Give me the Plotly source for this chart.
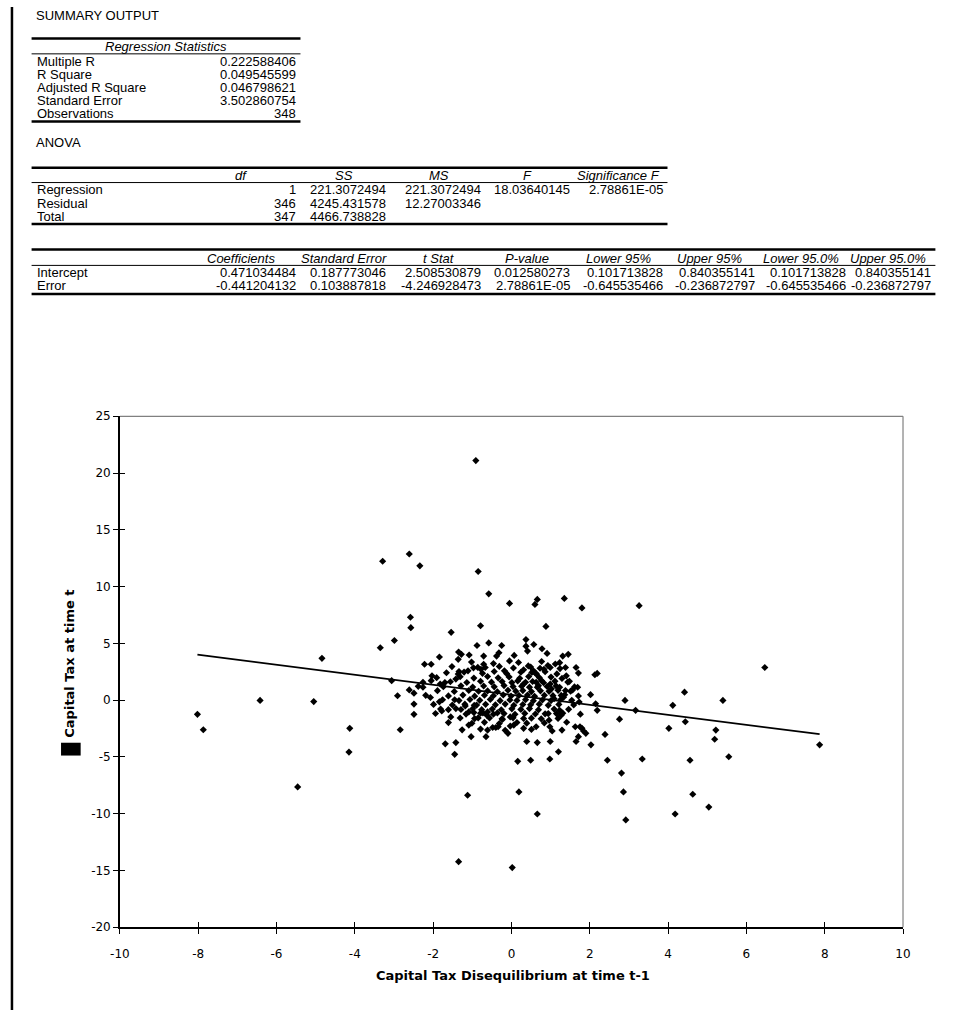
import plotly.graph_objects as go

W, H = 964, 1017
TFONT = "Liberation Sans"
CFONT = "DejaVu Sans"

# ---------------- table data ----------------
reg_title = "Regression Statistics"
reg_labels = ["Multiple R", "R Square", "Adjusted R Square", "Standard Error", "Observations"]
reg_values = ["0.222588406", "0.049545599", "0.046798621", "3.502860754", "348"]

anova_cols = ["df", "SS", "MS", "F", "Significance F"]
anova_rows = ["Regression", "Residual", "Total"]
anova_df = ["1", "346", "347"]
anova_ss = ["221.3072494", "4245.431578", "4466.738828"]
anova_ms = ["221.3072494", "12.27003346", ""]
anova_f = ["18.03640145", "", ""]
anova_sig = ["2.78861E-05", "", ""]

coef_cols = ["Coefficients", "Standard Error", "t Stat", "P-value",
             "Lower 95%", "Upper 95%", "Lower 95.0%", "Upper 95.0%"]
coef_rows = ["Intercept", "Error"]
coef_est = ["0.471034484", "-0.441204132"]
coef_se = ["0.187773046", "0.103887818"]
coef_t = ["2.508530879", "-4.246928473"]
coef_p = ["0.012580273", "2.78861E-05"]
coef_lo95 = ["0.101713828", "-0.645535466"]
coef_hi95 = ["0.840355141", "-0.236872797"]
coef_lo950 = ["0.101713828", "-0.645535466"]
coef_hi950 = ["0.840355141", "-0.236872797"]

x_title = "Capital Tax Disequilibrium at time t-1"
y_title = "Capital Tax at time t"
x_ticks = [-10, -8, -6, -4, -2, 0, 2, 4, 6, 8, 10]
x_tick_labels = ["-10", "-8", "-6", "-4", "-2", "0", "2", "4", "6", "8", "10"]
y_ticks = [-20, -15, -10, -5, 0, 5, 10, 15, 20, 25]
y_tick_labels = ["-20", "-15", "-10", "-5", "0", "5", "10", "15", "20", "25"]

# ---------------- scatter data ----------------
x_prev = [
    -8.02, -7.87, -6.42, -5.05, -5.46, -4.84, -4.13, -4.15, -3.29, -3.35,
    -2.99, -3.06, -2.61, -2.34, -2.58, -2.57, -2.84, -2.61, -2.49, -2.91,
    -2.49, -2.49, -2.26, -2.26, -2.22, -2.05, -2.03, -2.05, -2.07, -1.84,
    -1.84, -1.82, -1.70, -1.78, -1.61, -1.55, -1.42, -1.54, -1.45, -1.42,
    -1.35, -1.28, -1.08, -1.36, -1.34, -1.36, -0.91, -0.85, -0.58, -0.05,
    0.60, 0.66, -0.79, 0.37, 0.37, 0.41, 0.57, -0.58, -0.88, -0.25,
    -0.71, -0.32, -0.38, 0.07, -0.05, -0.97, -1.11, -0.71, -0.67, -0.78,
    0.31, 0.43, 0.56, 0.64, -0.18, -1.18, -1.09, -0.96, -0.95, -1.09,
    -1.03, -1.69, -1.42, -1.45, -0.85, -0.73, -0.63, -0.61, -0.65, -0.61,
    -0.48, -0.40, -0.34, -0.36, -0.23, -0.03, -0.09, -0.03, 0.06, 0.31,
    0.16, 0.49, 0.39, 0.66, 0.19, -1.12, 0.66, -1.35, 0.02, 1.35,
    1.80, 3.26, 0.88, 0.78, 0.91, 1.31, 1.45, 1.23, 0.52, 0.73,
    0.83, 0.99, 1.38, 1.65, 1.71, 2.13, 2.19, 1.40, 1.48, 1.56,
    1.69, 0.31, 0.63, 0.77, 0.66, 0.99, 1.02, 1.23, 1.38, 1.27,
    1.33, 1.09, 1.73, 2.15, 2.19, 2.90, 3.17, 4.42, 4.12, 5.40,
    6.47, 7.87, 2.76, 4.02, 4.44, 5.22, 5.19, 5.55, 4.56, 3.34,
    2.45, 2.39, 2.03, 1.90, 1.84, 1.63, 1.75, 1.80, 1.71, 1.65,
    1.20, 0.98, 2.81, 2.86, 2.92, 4.63, 4.18, 5.04, 1.04, 0.99,
    0.94, 0.96, 0.98, 1.15, 1.23, 1.27, 0.63, 2.02,
    # dense centre
    -1.02, -0.46, 0.18, 0.77, 1.12,
    -1.52, -0.86, -0.31, 0.05, 0.49, 0.93, 1.24,
    -1.66, -1.21, -0.74, -0.44, -0.12, 0.24, 0.61, 0.86, 1.16,
    -1.91, -1.31, -0.96, -0.61, -0.34, -0.06, 0.21, 0.44, 0.71, 1.01, 1.29,
    -1.56, -1.14, -0.79, -0.51, -0.24, 0.01, 0.16, 0.36, 0.54, 0.82, 1.11, 1.44,
    -2.38, -1.74, -1.29, -0.99, -0.71, -0.44, -0.19, 0.04, 0.26, 0.46, 0.69, 0.91, 1.14, 1.61,
    -1.89, -1.46, -1.09, -0.84, -0.61, -0.36, -0.09, 0.11, 0.29, 0.51, 0.74, 0.96, 1.19, 1.51,
    -2.19, -1.61, -1.24, -0.94, -0.69, -0.46, -0.21, -0.01, 0.19, 0.41, 0.59, 0.84, 1.06, 1.36, 1.71,
    -1.76, -1.34, -1.06, -0.81, -0.54, -0.29, -0.04, 0.14, 0.36, 0.56, 0.79, 1.01, 1.26, 1.54,
    -1.99, -1.51, -1.19, -0.89, -0.66, -0.41, -0.16, 0.06, 0.29, 0.49, 0.71, 0.94, 1.21, 1.59,
    -1.81, -1.29, -0.99, -0.76, -0.49, -0.26, 0.01, 0.24, 0.46, 0.69, 1.09, 1.46,
    -1.94, -1.16, -0.79, -0.46, -0.19, 0.09, 0.34, 0.61, 0.86, 1.31, 1.76,
    -1.31, -0.94, -0.56, -0.24, 0.04, 0.31, 0.51, 0.76, 1.19,
    -1.61, -1.01, -0.69, -0.31, 0.14, 0.39, 0.84, 1.41,
    -1.26, -0.79, -0.16, 0.51, 1.29,
]
y_curr = [
    -1.25, -2.61, -0.03, -0.13, -7.65, 3.68, -2.49, -4.58, 12.23, 4.61,
    5.25, 1.71, 12.87, 11.83, 7.30, 6.38, -2.61, 0.90, 0.61, 0.38,
    -0.35, -1.25, 1.57, 1.13, 3.16, 3.16, 2.14, 1.71, 0.23, -0.15,
    3.80, 1.42, 1.54, -0.96, -0.84, -1.48, -0.75, 5.97, 0.03, 1.85,
    4.23, 4.03, 3.97, 3.59, 2.52, 2.29, 21.10, 11.33, 9.36, 8.52,
    8.43, 8.87, 6.55, 5.33, 4.75, 4.32, 4.90, 5.04, 4.81, 4.81,
    3.88, 4.17, 3.88, 3.94, 3.45, 2.84, 2.58, 3.16, 2.87, 2.72,
    2.67, 3.01, 2.58, 2.29, 2.58, -0.52, -1.04, -1.10, -0.46, -2.20,
    -3.22, -3.85, -3.74, -4.78, -1.57, -1.13, -1.33, -1.04, -3.22, -2.64,
    -2.41, -2.41, -2.35, -1.13, -1.71, -1.48, -2.93, -2.29, -2.20, -2.49,
    -5.39, -5.30, -3.65, -3.74, -8.09, -8.38, -10.03, -14.23, -14.75, 8.96,
    8.12, 8.32, 6.49, 4.52, 4.11, 3.88, 4.03, 3.30, 2.43, 2.81,
    2.72, 2.87, 2.87, 2.87, 2.38, 2.23, 2.35, 2.14, 1.65, 0.90,
    1.13, 1.42, 1.57, 1.71, 1.13, 1.42, 0.99, 1.13, 0.84, 0.41,
    0.26, 0.12, -0.17, -0.32, -0.90, -0.03, -0.90, 0.70, -0.46, -0.03,
    2.87, -3.94, -1.68, -2.49, -1.91, -2.64, -3.45, -4.99, -5.30, -5.19,
    -5.30, -3.02, -3.94, -2.93, -2.72, -2.35, -2.35, -2.49, -3.22, -3.65,
    -4.55, -5.19, -6.43, -8.09, -10.55, -8.29, -10.03, -9.42, -2.72, -3.65,
    -1.19, -1.77, -2.35, -1.19, -0.90, -1.33, -2.35, 0.48,
    # dense centre
    3.35, 3.22, 3.31, 3.40, 3.18,
    2.95, 2.88, 2.97, 2.83, 2.92, 3.05, 2.78,
    2.41, 2.47, 2.36, 2.52, 2.33, 2.45, 2.38, 2.50, 2.31,
    1.98, 2.06, 1.94, 2.08, 1.96, 2.04, 1.92, 2.07, 1.99, 2.03, 1.91,
    1.62, 1.55, 1.66, 1.58, 1.63, 1.54, 1.69, 1.57, 1.64, 1.53, 1.67, 1.59,
    1.21, 1.18, 1.26, 1.15, 1.24, 1.17, 1.28, 1.19, 1.23, 1.14, 1.27, 1.20, 1.25, 1.16,
    0.83, 0.76, 0.85, 0.78, 0.81, 0.74, 0.87, 0.79, 0.84, 0.75, 0.82, 0.77, 0.86, 0.79,
    0.42, 0.37, 0.44, 0.35, 0.43, 0.38, 0.46, 0.36, 0.41, 0.45, 0.34, 0.43, 0.39, 0.47, 0.36,
    0.03, -0.04, 0.05, -0.02, 0.06, -0.05, 0.02, -0.03, 0.04, -0.06, 0.01, -0.04, 0.05, -0.02,
    -0.38, -0.43, -0.36, -0.44, -0.37, -0.42, -0.35, -0.45, -0.39, -0.41, -0.36, -0.46, -0.38, -0.43,
    -0.78, -0.83, -0.76, -0.84, -0.79, -0.85, -0.77, -0.82, -0.75, -0.86, -0.79, -0.81,
    -1.18, -1.23, -1.16, -1.24, -1.19, -1.25, -1.17, -1.22, -1.21, -1.15, -1.24,
    -1.58, -1.63, -1.57, -1.64, -1.56, -1.62, -1.59, -1.65, -1.61,
    -1.98, -2.04, -1.96, -2.06, -1.97, -2.03, -2.01, -1.95,
    -2.62, -2.55, -2.66, -2.58, -2.64,
]

# fitted line from the table coefficients
intercept = float(coef_est[0])
slope = float(coef_est[1])
x_line = [min(x_prev), max(x_prev)]
y_line = [intercept + slope * v for v in x_line]


def fx(px):
    return px / W


def fy(py):
    return 1 - py / H


annotations = []
shapes = []


def text(s, x, y, anchor="left", size=13, italic=False, font=TFONT, bold=False, angle=0):
    if italic:
        s = "<i>" + s + "</i>"
    if bold:
        s = "<b>" + s + "</b>"
    annotations.append(dict(text=s, x=fx(x), y=fy(y), xref="paper", yref="paper",
                            xanchor=anchor, yanchor="middle", showarrow=False,
                            textangle=angle, borderpad=0,
                            font=dict(family=font, size=size, color="black")))


def hline(x0, x1, y, w):
    shapes.append(dict(type="line", xref="paper", yref="paper",
                       x0=fx(x0), x1=fx(x1), y0=fy(y), y1=fy(y),
                       line=dict(color="black", width=w)))


LX = 26          # label column
L0 = 22          # table left edge
col_right = [292, 384, 481, 572, 666, 760, 853, 940]
col_head = [235, 340, 437, 527, 620, 713, 806, 895]
ROW = 13.3

# ---- title / regression statistics ----
text("SUMMARY OUTPUT", 25, 9)
hline(L0, 296, 32, 2.5)
text(reg_title, 159, 40, anchor="center", italic=True)
hline(L0, 296, 47.5, 1)
reg_y = [55 + i * ROW for i in range(len(reg_labels))]
for lab, val, yy in zip(reg_labels, reg_values, reg_y):
    text(lab, LX, yy)
    text(val, col_right[0], yy, anchor="right")
hline(L0, 296, 116, 2.5)

# ---- ANOVA ----
text("ANOVA", 25, 137)
hline(L0, 670, 163, 2.5)
for i, h in enumerate(anova_cols):
    text(h, col_head[i], 171, anchor="center", italic=True)
hline(L0, 670, 178, 1)
anova_y = [185.5 + i * ROW for i in range(len(anova_rows))]
anova_vals = [anova_df, anova_ss, anova_ms, anova_f, anova_sig]
for r, lab in enumerate(anova_rows):
    text(lab, LX, anova_y[r])
    for c, col in enumerate(anova_vals):
        if col[r]:
            text(col[r], col_right[c], anova_y[r], anchor="right")
hline(L0, 670, 220, 2.5)

# ---- coefficients ----
hline(L0, 943, 246, 2.5)
for i, h in enumerate(coef_cols):
    text(h, col_head[i], 255, anchor="center", italic=True)
hline(L0, 943, 262, 1)
coef_y = [269.5 + i * ROW for i in range(len(coef_rows))]
coef_vals = [coef_est, coef_se, coef_t, coef_p, coef_lo95, coef_hi95, coef_lo950, coef_hi950]
for r, lab in enumerate(coef_rows):
    text(lab, LX, coef_y[r])
    for c, col in enumerate(coef_vals):
        text(col[r], col_right[c], coef_y[r], anchor="right")
hline(L0, 943, 291, 2.5)

# left page border
shapes.append(dict(type="line", xref="paper", yref="paper", x0=fx(2), x1=fx(2), y0=0, y1=1,
                   line=dict(color="black", width=2.5)))

# ---- chart ----
PX0, PX1, PY0, PY1 = 112, 910, 415, 933
xdom = [fx(PX0), fx(PX1)]
ydom = [fy(PY1), fy(PY0)]

# top and right frame lines (grey)
shapes.append(dict(type="line", xref="paper", yref="paper", x0=xdom[0], x1=xdom[1], y0=ydom[1], y1=ydom[1],
                   line=dict(color="#808080", width=1.2)))
shapes.append(dict(type="line", xref="paper", yref="paper", x0=xdom[1], x1=xdom[1], y0=ydom[0], y1=ydom[1],
                   line=dict(color="#808080", width=1.2)))
# legend key block beside the y title
shapes.append(dict(type="rect", xref="paper", yref="paper", x0=fx(52), x1=fx(72), y0=fy(759), y1=fy(746),
                   fillcolor="black", line=dict(width=0)))

text(y_title, 61, 666, anchor="center", size=13, font=CFONT, bold=True, angle=-90)
text(x_title, 513, 982, anchor="center", size=13, font=CFONT, bold=True)

fig = go.Figure()
fig.add_trace(go.Scatter(x=x_prev, y=y_curr, mode="markers",
                         marker=dict(symbol="diamond", size=5.5, color="black", line=dict(width=0)),
                         showlegend=False, hoverinfo="x+y"))
fig.add_trace(go.Scatter(x=x_line, y=y_line, mode="lines",
                         line=dict(color="black", width=1.8), showlegend=False))
fig.add_trace(go.Scatter(x=[None], y=[None], xaxis="x2", yaxis="y2", mode="markers",
                         showlegend=False, hoverinfo="skip"))

axis_common = dict(showgrid=False, zeroline=False)
fig.update_layout(
    width=W, height=H, margin=dict(l=0, r=0, t=0, b=0),
    paper_bgcolor="white", plot_bgcolor="white", showlegend=False,
    xaxis=dict(domain=xdom, range=[x_ticks[0], x_ticks[-1]], tickvals=x_ticks, ticktext=x_tick_labels,
               ticks="outside", ticklen=5, tickwidth=1, tickcolor="black",
               showline=True, linecolor="black", linewidth=1.5,
               tickfont=dict(family=CFONT, size=12, color="black"),
               ticklabelstandoff=10, anchor="y", **axis_common),
    yaxis=dict(domain=ydom, range=[y_ticks[0], y_ticks[-1]], tickvals=y_ticks, ticktext=y_tick_labels,
               ticks="outside", ticklen=5, tickwidth=1, tickcolor="black",
               showline=True, linecolor="black", linewidth=1.5,
               tickfont=dict(family=CFONT, size=12, color="black"),
               anchor="x", **axis_common),
    xaxis2=dict(overlaying="x", anchor="y2", side="bottom", range=[x_ticks[0], x_ticks[-1]],
                tickvals=x_ticks, ticks="inside", ticklen=5, tickwidth=1, tickcolor="black",
                showticklabels=False, showline=False, **axis_common),
    yaxis2=dict(overlaying="y", anchor="x2", side="left", range=[y_ticks[0], y_ticks[-1]],
                tickvals=y_ticks, ticks="inside", ticklen=5, tickwidth=1, tickcolor="black",
                showticklabels=False, showline=False, **axis_common),
    annotations=annotations, shapes=shapes,
)

fig.write_html("out.html", config={"displayModeBar": False},
               post_script="document.body.style.margin='0px';document.body.style.overflow='hidden';")
